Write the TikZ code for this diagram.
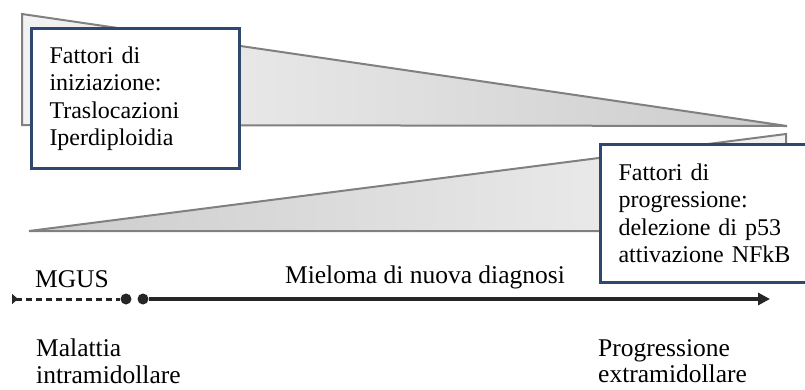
\documentclass[tikz,border=0pt]{standalone}
\usepackage{fontspec}
\setmainfont{Liberation Serif}
\usepackage{tikz}
\usetikzlibrary{shapes,arrows.meta,positioning,calc}

\definecolor{boxblue}{RGB}{46,72,112}
\definecolor{wedgeline}{RGB}{128,128,128}

\begin{document}
\begin{tikzpicture}[x=1pt,y=-1pt]
    \tikzstyle{wedge}=[draw=wedgeline,line width=2pt,line join=miter]
    \tikzstyle{factor}=[draw=boxblue,line width=3pt,fill=white,anchor=north west,
        align=left,inner xsep=18pt,inner ysep=0pt,
        font=\fontsize{24}{27.5}\selectfont]
    \tikzstyle{stage}=[inner sep=0pt,font=\fontsize{25.5}{26}\selectfont]
    \tikzstyle{annot}=[inner sep=0pt,anchor=north west,align=left,
        font=\fontsize{25.5}{26.5}\selectfont]
    \tikzstyle{dot}=[circle,fill=black!85,minimum size=11pt,inner sep=0pt]

    \useasboundingbox (0,0) rectangle (805,389);

    % Draw the two wedges
    \coordinate (W1-a) at (22,14);
    \coordinate (W1-b) at (787,126);
    \coordinate (W1-c) at (22,125);
    \coordinate (W2-a) at (29,231);
    \coordinate (W2-b) at (786,134);
    \coordinate (W2-c) at (786,231);
    \fill[left color=black!5,right color=black!20] (W1-a) -- (W1-b) -- (W1-c) -- cycle;
    \draw[wedge] (W1-a) -- (W1-b) -- (W1-c) -- cycle;
    \fill[left color=black!20,right color=black!5] (W2-a) -- (W2-b) -- (W2-c) -- cycle;
    \draw[wedge] (W2-a) -- (W2-b) -- (W2-c) -- cycle;

    % Draw the factor boxes
    \node[factor,text width=172pt,minimum height=140pt] (init) at (30,27)
        {Fattori di\\iniziazione:\\Traslocazioni\\Iperdiploidia};
    \node[factor,text width=182pt,minimum height=138pt] (prog) at (599,143)
        {Fattori di\\progressione:\\delezione di p53\\attivazione NFkB};

    % Draw the time line
    \coordinate (start) at (12,299);
    \node[dot] (mgus end) at (126,299) {};
    \node[dot] (mm start) at (143,299) {};
    \coordinate (end) at (770,299);
    \draw[black!85,line width=3pt,dash pattern=on 6pt off 4pt,
        {Triangle[reversed,length=6pt,width=10pt]}-] (start) -- (mgus end);
    \draw[black!85,line width=3.5pt,-{Triangle[length=12pt,width=12pt]}] (mm start) -- (end);

    % Annotate the time line
    \node[stage] (mgus) at (72,279) {MGUS};
    \node[stage] (mm) at (425,277) {Mieloma di nuova diagnosi};
    \node[annot] (intra) at (36,339) {Malattia\\intramidollare};
    \node[annot] (extra) at (598,339) {Progressione\\extramidollare};
\end{tikzpicture}
\end{document}
